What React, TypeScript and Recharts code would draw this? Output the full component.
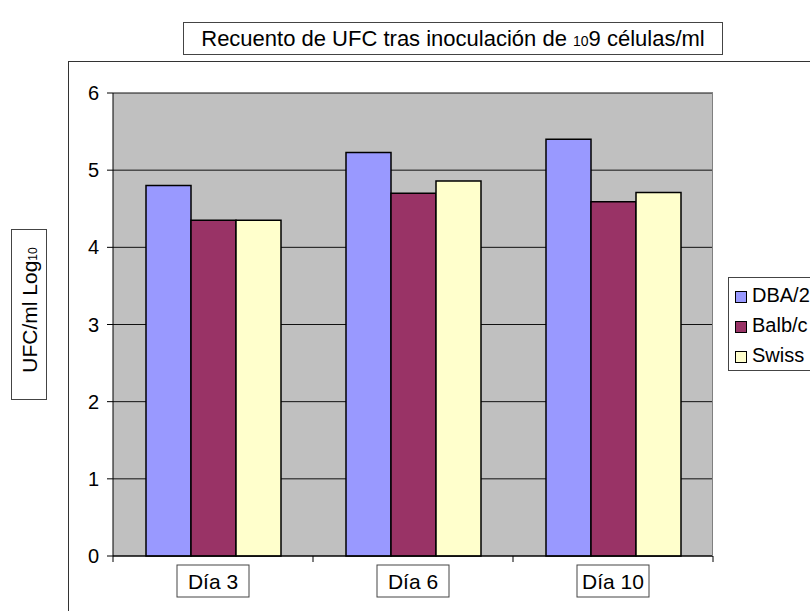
import React from "react";
import {
  BarChart,
  Bar,
  XAxis,
  YAxis,
  CartesianGrid,
  Legend,
} from "recharts";

// categorías y valores (log10 UFC/ml)
const DIAS = ["Día 3", "Día 6", "Día 10"];
const DBA2 = [4.8, 5.23, 5.4];
const BALBC = [4.35, 4.7, 4.59];
const SWISS = [4.35, 4.86, 4.71];
const Y_TICKS = [0, 1, 2, 3, 4, 5, 6];

const SERIES = [
  { key: "DBA/2", color: "#9999FF" },
  { key: "Balb/c", color: "#993366" },
  { key: "Swiss", color: "#FFFFCC" },
];

const data = DIAS.map((dia, i) => ({
  dia,
  "DBA/2": DBA2[i],
  "Balb/c": BALBC[i],
  Swiss: SWISS[i],
}));

const FONT = "'Liberation Sans', Arial, sans-serif";
const PLOT_LEFT = 113;
const PLOT_RIGHT = 713;
const BAND = (PLOT_RIGHT - PLOT_LEFT) / DIAS.length;

const DiaTick = (props: any) => {
  const { x, y, payload, index } = props;
  const w = 72;
  return (
    <g>
      <line x1={x - BAND / 2} y1={y} x2={x - BAND / 2} y2={y + 6} stroke="#000" />
      {index === DIAS.length - 1 && (
        <line x1={x + BAND / 2} y1={y} x2={x + BAND / 2} y2={y + 6} stroke="#000" />
      )}
      <rect x={x - w / 2} y={y + 9} width={w} height={32} fill="#fff" stroke="#444" />
      <text
        x={x}
        y={y + 33}
        textAnchor="middle"
        fontSize={21}
        fontFamily={FONT}
        fill="#000"
      >
        {payload.value}
      </text>
    </g>
  );
};

const LegendBox = () => (
  <div
    style={{
      width: 100,
      height: 94,
      border: "1px solid #444",
      background: "#fff",
      boxSizing: "border-box",
      paddingTop: 2,
      paddingLeft: 6,
      fontFamily: FONT,
      fontSize: 20,
      textAlign: "left",
    }}
  >
    {SERIES.map((s) => (
      <div
        key={s.key}
        style={{ display: "flex", alignItems: "center", height: 30 }}
      >
        <span
          style={{
            width: 10,
            height: 10,
            background: s.color,
            border: "1px solid #000",
            marginRight: 5,
            marginTop: 3,
            display: "inline-block",
          }}
        />
        <span>{s.key}</span>
      </div>
    ))}
  </div>
);

export default function App() {
  return (
    <div
      style={{
        position: "absolute",
        left: 0,
        top: 0,
        width: 810,
        height: 611,
        overflow: "hidden",
        background: "#fff",
        fontFamily: FONT,
      }}
    >
      {/* marco exterior */}
      <div
        style={{
          position: "absolute",
          left: 68,
          top: 61,
          width: 800,
          height: 600,
          borderLeft: "1px solid #333",
          borderTop: "1px solid #333",
        }}
      />
      <BarChart
        width={810}
        height={611}
        data={data}
        margin={{ top: 93, right: 97, left: 68, bottom: 15 }}
        barCategoryGap="16.5%"
        barGap={0}
      >
        <CartesianGrid vertical={false} stroke="#111" fill="#C0C0C0" />
        <XAxis
          dataKey="dia"
          height={40}
          axisLine={{ stroke: "#000" }}
          tickLine={false}
          tickSize={0}
          tickMargin={0}
          tick={<DiaTick />}
          interval={0}
        />
        <YAxis
          width={45}
          domain={[0, 6]}
          ticks={Y_TICKS}
          interval={0}
          axisLine={{ stroke: "#000" }}
          tickLine={{ stroke: "#000" }}
          tickSize={6}
          tickMargin={8}
          tick={{ fontSize: 20, fill: "#000", fontFamily: FONT }}
        />
        <Legend
          layout="vertical"
          align="center"
          verticalAlign="middle"
          content={<LegendBox />}
          wrapperStyle={{ position: "absolute", left: 728, top: 277, width: 100 }}
        />
        {SERIES.map((s) => (
          <Bar
            key={s.key}
            dataKey={s.key}
            fill={s.color}
            stroke="#000"
            strokeWidth={1.5}
            isAnimationActive={false}
          />
        ))}
      </BarChart>
      {/* borde derecho del área de trazado */}
      <div
        style={{
          position: "absolute",
          left: 712,
          top: 93,
          width: 1,
          height: 463,
          background: "#808080",
        }}
      />
      {/* título */}
      <div
        style={{
          position: "absolute",
          left: 183,
          top: 22,
          width: 540,
          height: 33,
          boxSizing: "border-box",
          border: "1px solid #444",
          background: "#fff",
          fontSize: 22,
          lineHeight: "31px",
          textAlign: "center",
          whiteSpace: "nowrap",
        }}
      >
        Recuento de UFC tras inoculación de <span style={{ fontSize: 14 }}>10</span>9 células/ml
      </div>
      {/* título eje Y */}
      <div
        style={{
          position: "absolute",
          left: 11,
          top: 229,
          width: 36,
          height: 171,
          boxSizing: "border-box",
          border: "1px solid #444",
          background: "#fff",
        }}
      >
        <div
          style={{
            position: "absolute",
            left: 18,
            top: 80,
            transform: "translate(-50%, -50%) rotate(-90deg)",
            whiteSpace: "nowrap",
            fontSize: 21,
          }}
        >
          UFC/ml Log<span style={{ fontSize: 12 }}>10</span>
        </div>
      </div>
    </div>
  );
}
